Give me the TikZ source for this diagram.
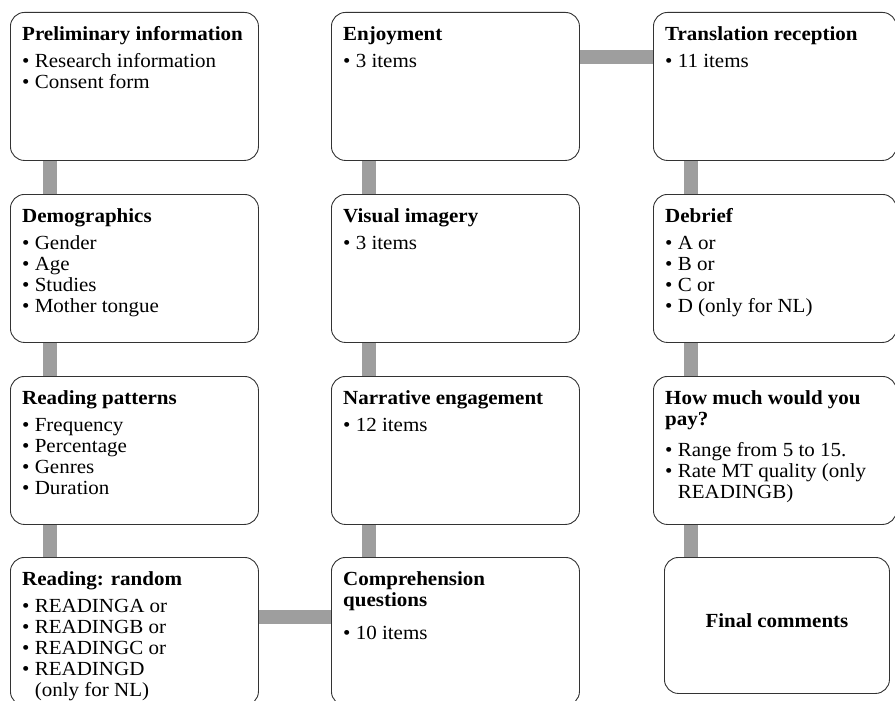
\documentclass[tikz,border=0pt]{standalone}
\usepackage{fontspec}
\setmainfont[FakeStretch=1.05]{Liberation Serif}
\usetikzlibrary{positioning}

\newcommand{\bul}{\textbullet\ }
\newcommand{\ind}{\phantom{\textbullet\ }}

\tikzset{
  box/.style={draw=black!80, line width=0.9bp, rounded corners=14bp, fill=white,
    minimum width=248bp, minimum height=148bp, anchor=north west, inner sep=0},
  boxr/.style={box, minimum width=243bp},
  txt/.style={inner sep=0, align=left, anchor=north west,
    font=\fontsize{20bp}{21bp}\selectfont},
  link/.style={line width=14bp, draw=black!38, shorten >=0.5bp, shorten <=0.5bp}
}

\begin{document}
\begin{tikzpicture}[x=1bp, y=-1bp]
\useasboundingbox (0,0) rectangle (895,701);

% boxes
\node[box] (prelim) at (10,12) {};
\node[box] (demo) at (10,194) {};
\node[box] (patterns) at (10,376) {};
\node[box] (random) at (10,557) {};
\node[box] (enjoy) at (331,12) {};
\node[box] (imagery) at (331,194) {};
\node[box] (narrative) at (331,376) {};
\node[box] (compre) at (331,557) {};
\node[boxr] (transl) at (653,12) {};
\node[boxr] (debrief) at (653,194) {};
\node[boxr] (pay) at (653,376) {};
\node[box, minimum width=225bp, minimum height=136bp] (final) at (664,557) {};
\node[txt, anchor=center, yshift=5bp] (finaltxt) at (final.center) {\textbf{Final comments}};

% texts
\node[txt, below right=14bp and 12bp of prelim.north west] (prelimtxt)
  {\textbf{Preliminary information}\\[6bp] \bul Research information\\ \bul Consent form};
\node[txt, below right=14bp and 12bp of demo.north west] (demotxt)
  {\textbf{Demographics}\\[6bp] \bul Gender\\ \bul Age\\ \bul Studies\\ \bul Mother tongue};
\node[txt, below right=14bp and 12bp of patterns.north west] (patternstxt)
  {\textbf{Reading patterns}\\[6bp] \bul Frequency\\ \bul Percentage\\ \bul Genres\\ \bul Duration};
\node[txt, below right=14bp and 12bp of random.north west] (randomtxt)
  {\textbf{Reading: random}\\[6bp] \bul READINGA or\\ \bul READINGB or\\ \bul READINGC or\\
   \bul READINGD\\ \ind(only for NL)};
\node[txt, below right=14bp and 12bp of enjoy.north west] (enjoytxt)
  {\textbf{Enjoyment}\\[6bp] \bul 3 items};
\node[txt, below right=14bp and 12bp of imagery.north west] (imagerytxt)
  {\textbf{Visual imagery}\\[6bp] \bul 3 items};
\node[txt, below right=14bp and 12bp of narrative.north west] (narrativetxt)
  {\textbf{Narrative engagement}\\[6bp] \bul 12 items};
\node[txt, below right=14bp and 12bp of compre.north west] (compretxt)
  {\textbf{Comprehension}\\ \textbf{questions}\\[12bp] \bul 10 items};
\node[txt, below right=14bp and 12bp of transl.north west] (transltxt)
  {\textbf{Translation reception}\\[6bp] \bul 11 items};
\node[txt, below right=14bp and 12bp of debrief.north west] (debrieftxt)
  {\textbf{Debrief}\\[6bp] \bul A or\\ \bul B or\\ \bul C or\\ \bul D (only for NL)};
\node[txt, below right=14bp and 12bp of pay.north west] (paytxt)
  {\textbf{How much would you}\\ \textbf{pay?}\\[10bp] \bul Range from 5 to 15.\\
   \bul Rate MT quality (only\\ \ind READINGB)};

% connectors
\draw[link] ([xshift=40bp]prelim.south west) -- ([xshift=40bp]demo.north west);
\draw[link] ([xshift=40bp]demo.south west) -- ([xshift=40bp]patterns.north west);
\draw[link] ([xshift=40bp]patterns.south west) -- ([xshift=40bp]random.north west);
\draw[link] ([yshift=-60bp]random.north east) -- ([yshift=-60bp]compre.north west);
\draw[link] ([xshift=38bp]compre.north west) -- ([xshift=38bp]narrative.south west);
\draw[link] ([xshift=38bp]narrative.north west) -- ([xshift=38bp]imagery.south west);
\draw[link] ([xshift=38bp]imagery.north west) -- ([xshift=38bp]enjoy.south west);
\draw[link] ([yshift=-45bp]enjoy.north east) -- ([yshift=-45bp]transl.north west);
\draw[link] ([xshift=38bp]transl.south west) -- ([xshift=38bp]debrief.north west);
\draw[link] ([xshift=38bp]debrief.south west) -- ([xshift=38bp]pay.north west);
\coordinate (payfoot) at ([xshift=38bp]pay.south west);
\draw[link] (payfoot) -- (payfoot |- final.north);
\end{tikzpicture}
\end{document}
